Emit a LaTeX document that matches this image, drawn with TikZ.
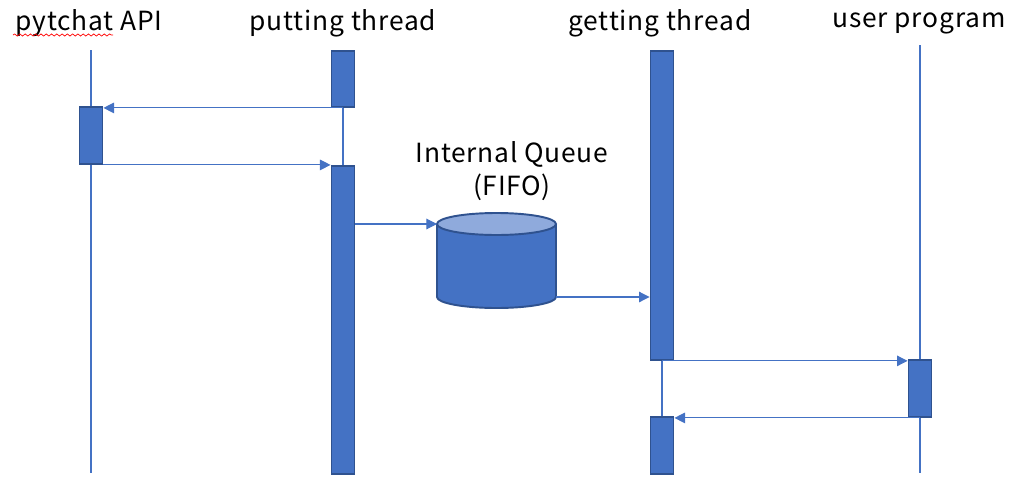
\documentclass[tikz,border=0pt]{standalone}
\usepackage{fontspec}
\setmainfont[LetterSpace=3]{Noto Sans CJK JP}
\usetikzlibrary{arrows.meta,decorations.pathmorphing}
\definecolor{barblue}{HTML}{4472C4}
\definecolor{edgeblue}{HTML}{2F528F}
\definecolor{topblue}{HTML}{8FAADC}
\begin{document}
\begin{tikzpicture}[x=0.02cm,y=-0.02cm]
\tikzset{bar/.style={draw=edgeblue,fill=barblue,line width=1.1pt,minimum width=0.46cm,inner sep=0pt,anchor=north},
  life/.style={draw=barblue,line width=0.6pt},
  msg/.style={draw=barblue,line width=0.6pt,-{Triangle[length=6pt,width=6pt]}},
  title/.style={font=\fontsize{15}{19}\selectfont}}
\useasboundingbox (0,0) rectangle (1021,487);
% lifelines
\foreach \x/\y in {91/50,343/50,662/359,920/45}
  \draw[life] (\x,\y) -- (\x,473);
% titles
\node[title] (apiname) at (89,23) {pytchat API};
\node[title] (putname) at (343,23) {putting thread};
\node[title] (getname) at (660,23) {getting thread};
\node[title] (username) at (919,23) {user program};
\node[title,align=center] (queuename) at (512,171) {Internal Queue\\(FIFO)};
\draw[red,line width=0.4pt,decorate,decoration={snake,amplitude=0.6pt,segment length=3pt}]
  (13,35) coordinate (squig) -- ++(100,0);
% activation bars
\node[bar,minimum height=1.14cm] (api) at (91,106) {};
\node[bar,minimum height=1.12cm] (put1) at (343,50) {};
\node[bar,minimum height=6.16cm] (put2) at (343,165) {};
\node[bar,minimum height=6.18cm] (get1) at (662,50) {};
\node[bar,minimum height=1.14cm] (get2) at (662,416) {};
\node[bar,minimum height=1.14cm] (user) at (920,359) {};
% queue
\coordinate (qin) at (437,224);
\coordinate (qout) at (556,297);
\filldraw[draw=edgeblue,fill=barblue,line width=1.1pt] (qin) -- (437,297)
  arc[start angle=180,end angle=0,x radius=59.5,y radius=11] -- (556,224);
\filldraw[draw=edgeblue,fill=topblue,line width=1.1pt] (496.5,224) ellipse[x radius=59.5,y radius=11];
% messages
\draw[msg] (put1.south) -- (api.east |- put1.south);
\draw[msg] (api.south east) -- (api.south east -| put2.west);
\draw[msg] (put2.east |- qin) -- (qin);
\draw[msg] (qout) -- (qout -| get1.west);
\draw[msg] (get1.south) -- (get1.south -| user.west);
\draw[msg] (user.south) -- (user.south -| get2.east);
\end{tikzpicture}
\end{document}
